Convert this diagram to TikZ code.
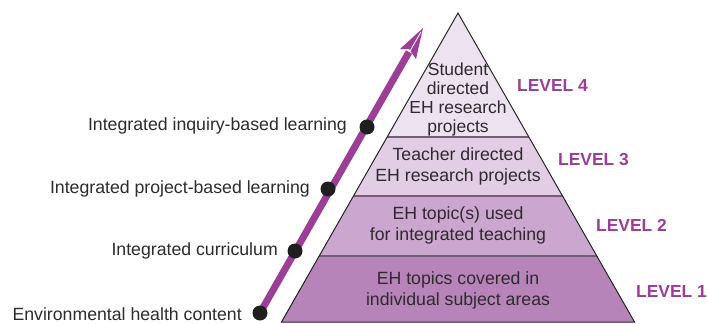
\documentclass[tikz,border=0pt]{standalone}
\usepackage{fontspec}
\setmainfont{Liberation Sans}
\usetikzlibrary{calc}
\definecolor{purp}{HTML}{9A3E96}
\definecolor{lvfour}{HTML}{EDE2F0}
\definecolor{lvthree}{HTML}{E2CDE5}
\definecolor{lvtwo}{HTML}{CBA6CF}
\definecolor{lvone}{HTML}{B684B9}
\definecolor{txt}{HTML}{2E2A2E}
\definecolor{divline}{HTML}{6E6070}
\tikzset{
  lbl/.style={font=\fontsize{17.7}{19}\selectfont, text=txt, inner sep=0pt},
  ptxt/.style={font=\fontsize{17.7}{21}\selectfont, text=txt, align=center, inner sep=0pt},
  ptxtfour/.style={font=\fontsize{17.5}{19}\selectfont, text=txt, align=center, inner sep=0pt},
  lvl/.style={font=\bfseries\fontsize{17.4}{19}\selectfont, text=purp, anchor=west, inner sep=0pt},
  dot/.style={circle, fill=black!88, inner sep=0pt, minimum size=15pt},
}
\begin{document}
\begin{tikzpicture}[x=1pt,y=-1pt]
\useasboundingbox (0,0) rectangle (707,324);
% pyramid layers
\coordinate (apex) at (458,13);
\coordinate (a4l) at (387.2,137); \coordinate (a4r) at (528.8,137);
\coordinate (a3l) at (353.5,196); \coordinate (a3r) at (562.5,196);
\coordinate (a2l) at (319.2,256); \coordinate (a2r) at (596.8,256);
\coordinate (a1l) at (281.5,322); \coordinate (a1r) at (634.5,322);
\fill[lvfour] (apex) -- (a4r) -- (a4l) -- cycle;
\fill[lvthree] (a4l) -- (a4r) -- (a3r) -- (a3l) -- cycle;
\fill[lvtwo] (a3l) -- (a3r) -- (a2r) -- (a2l) -- cycle;
\fill[lvone] (a2l) -- (a2r) -- (a1r) -- (a1l) -- cycle;
\draw[divline, line width=1.6pt] (a4l) -- (a4r) (a3l) -- (a3r) (a2l) -- (a2r);
\draw[black!85, line width=1pt, line join=miter] (apex) -- (a1r) -- (a1l) -- cycle;
% pyramid texts
\node[ptxtfour] (t4) at (458,99) {Student\\directed\\EH research\\projects};
\node[ptxt] (t3) at (458,166) {Teacher directed\\EH research projects};
\node[ptxt] (t2) at (458,225) {EH topic(s) used\\for integrated teaching};
\node[ptxt] (t1) at (458,290) {EH topics covered in\\individual subject areas};
% level labels
\node[lvl] (l4) at (517,86) {LEVEL 4};
\node[lvl] (l3) at (558,160) {LEVEL 3};
\node[lvl] (l2) at (596,225) {LEVEL 2};
\node[lvl] (l1) at (636,292) {LEVEL 1};
% arrow
\coordinate (start) at (260,313);
\coordinate (tip) at (423,28);
\coordinate (hbase) at (409,52);
\draw[purp, line width=7pt] (start) -- (hbase);
\fill[purp] (tip) -- (400,49) -- (409,49) -- (416,59) -- cycle;
\draw[white, line width=0.8pt] (421,32) -- (410,51);
% dots
\node[dot] (d1) at (260,313) {};
\node[dot] (d2) at (295,251) {};
\node[dot] (d3) at (328,189) {};
\node[dot] (d4) at (367,127) {};
% left labels
\node[lbl, anchor=east] (e1) at (242,314) {Environmental health content};
\node[lbl, anchor=east] (e2) at (278,251) {Integrated curriculum};
\node[lbl, anchor=east] (e3) at (310,189) {Integrated project-based learning};
\node[lbl, anchor=east] (e4) at (347,126) {Integrated inquiry-based learning};
\end{tikzpicture}
\end{document}
